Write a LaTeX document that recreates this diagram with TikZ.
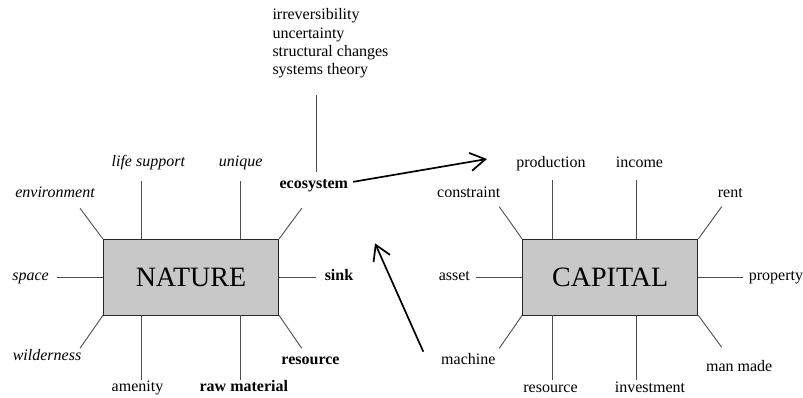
\documentclass[tikz,border=0pt]{standalone}
\usepackage{fontspec}
\setmainfont{Liberation Serif}
\usetikzlibrary{arrows.meta}
\definecolor{cbox}{HTML}{C8C8C8}
\definecolor{cline}{HTML}{4D4D4D}
\tikzset{
  core/.style={draw=black!85,fill=cbox,line width=0.9pt,minimum width=175.4pt,minimum height=75.7pt,inner sep=0pt,font=\fontsize{28}{30}\selectfont},
  lbl/.style={anchor=base,inner sep=0pt,font=\fontsize{16}{18.4}\selectfont},
  ilbl/.style={lbl,font=\fontsize{16}{18.4}\selectfont\itshape},
  blbl/.style={lbl,font=\fontsize{16}{18.4}\selectfont\bfseries},
  spoke/.style={draw=cline,line width=0.9pt},
  bigarr/.style={-{Straight Barb[length=15pt,width=18pt]},line width=1.7pt},
}
\begin{document}
\begin{tikzpicture}[x=1pt,y=-1pt]
  \useasboundingbox (0,0) rectangle (803,398);
  \node[core] (nat) at (191,277.15) {NATURE};
  \node[core] (cap) at (610.2,277.15) {CAPITAL};
  \node[anchor=north west,inner sep=0pt,align=left,font=\fontsize{16}{18.4}\selectfont] (topics) at (272.3,8.4)
    {irreversibility\\uncertainty\\structural changes\\systems theory};
  \node[ilbl] (env) at (55,197.6) {environment};
  \node[ilbl] (life) at (148.3,166.3) {life support};
  \node[ilbl] (uniq) at (240.7,166.6) {unique};
  \node[blbl] (eco) at (313.8,188.6) {ecosystem};
  \node[ilbl] (space) at (30.5,280.6) {space};
  \node[blbl] (sink) at (339,280.6) {sink};
  \node[ilbl] (wild) at (47,360.6) {wilderness};
  \node[blbl] (resn) at (310.5,364.6) {resource};
  \node[lbl] (amen) at (137.5,391.6) {amenity};
  \node[blbl] (raw) at (243.8,391.6) {raw material};
  \node[lbl] (constr) at (468.7,197.6) {constraint};
  \node[lbl] (prod) at (551,167.6) {production};
  \node[lbl] (inc) at (639.5,167.6) {income};
  \node[lbl] (rent) at (730.3,197.6) {rent};
  \node[lbl] (asset) at (454.3,280.6) {asset};
  \node[lbl] (prop) at (776,280.6) {property};
  \node[lbl] (mach) at (468.3,364.6) {machine};
  \node[lbl] (manm) at (739.2,371.3) {man made};
  \node[lbl] (resc) at (550.5,392.6) {resource};
  \node[lbl] (inv) at (650,392.6) {investment};

  \coordinate (nTL) at (80,208.3);    \coordinate (nTR) at (301.7,208.3);
  \coordinate (nBL) at (80,348.3);    \coordinate (nBR) at (301.7,348.3);
  \coordinate (nL) at (57.3,277.15);  \coordinate (nR) at (316,277.15);
  \coordinate (nT1) at (141.7,180.7); \coordinate (nT2) at (240.7,180.7);
  \coordinate (nB1) at (141.7,380);   \coordinate (nB2) at (240.7,380);
  \coordinate (cTL) at (499.3,206.7); \coordinate (cTR) at (721.7,206.7);
  \coordinate (cBL) at (499.3,348.3); \coordinate (cBR) at (721.7,347.3);
  \coordinate (cL) at (476,277.15);   \coordinate (cR) at (743.3,277.15);
  \coordinate (cT1) at (552.7,180);   \coordinate (cT2) at (636.7,180);
  \coordinate (cB1) at (552.7,380);   \coordinate (cB2) at (636.7,380);
  \coordinate (eTop) at (316.7,95);
  \coordinate (capTip) at (487,159);
  \coordinate (machEnd) at (423.3,351.7);
  \coordinate (midTip) at (375,243.3);

  \foreach \c/\a in {nTL/nat.north west,nTR/nat.north east,nBL/nat.south west,nBR/nat.south east,nL/nat.west,nR/nat.east,
                     cTL/cap.north west,cTR/cap.north east,cBL/cap.south west,cBR/cap.south east,cL/cap.west,cR/cap.east}
    \draw[spoke] (\a) -- (\c);
  \foreach \c/\a in {nT1/nat.north,nT2/nat.north,nB1/nat.south,nB2/nat.south,
                     cT1/cap.north,cT2/cap.north,cB1/cap.south,cB2/cap.south}
    \draw[spoke] (\c |- \a) -- (\c);
  \draw[spoke] (eTop) -- ([yshift=7pt]eTop |- eco.north);

  \draw[bigarr] ([xshift=5pt,yshift=4pt]eco.east) -- (capTip);
  \draw[bigarr] (machEnd) -- (midTip);
\end{tikzpicture}
\end{document}
